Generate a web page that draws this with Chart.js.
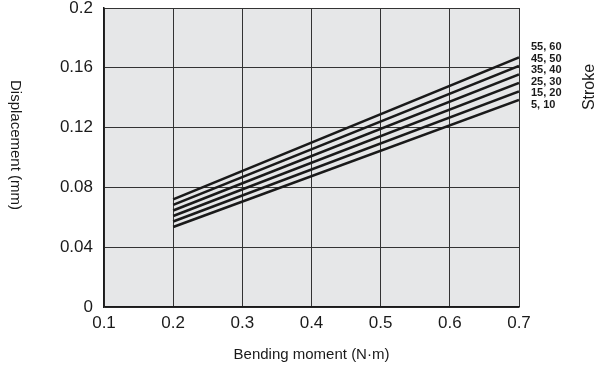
<!DOCTYPE html>
<html lang="en">
<head>
    <meta charset="UTF-8">
    <title>Displacement vs Bending moment</title>
    <script src="https://cdn.jsdelivr.net/npm/chart.js"></script>
    <style>
        * { margin: 0; padding: 0; box-sizing: border-box; }
        body { background: #ffffff; width: 606px; height: 376px; overflow: hidden; }
        .wrap { position: relative; width: 606px; height: 376px; }
    </style>
</head>
<body>
<div class="wrap">
    <canvas id="chart" width="606" height="376"></canvas>
</div>

<script>
    // Data
    var moment = [0.2, 0.7];
    var strokes = ['5, 10', '15, 20', '25, 30', '35, 40', '45, 50', '55, 60'];
    var disp_5_10 = [0.0535, 0.1385];
    var disp_15_20 = [0.0572, 0.1442];
    var disp_25_30 = [0.0609, 0.1499];
    var disp_35_40 = [0.0646, 0.1556];
    var disp_45_50 = [0.0683, 0.1613];
    var disp_55_60 = [0.0720, 0.1670];
    var xTicks = [0.1, 0.2, 0.3, 0.4, 0.5, 0.6, 0.7];
    var yTicks = [0, 0.04, 0.08, 0.12, 0.16, 0.2];

    var seriesValues = [disp_5_10, disp_15_20, disp_25_30, disp_35_40, disp_45_50, disp_55_60];
    var fontFamily = '"Liberation Sans", Arial, sans-serif';

    var datasets = seriesValues.map(function (vals, i) {
        return {
            label: strokes[i],
            data: moment.map(function (m, j) { return { x: m, y: vals[j] }; }),
            borderColor: '#1a1a1a',
            borderWidth: 2.6,
            pointRadius: 0,
            showLine: true,
            fill: false
        };
    });

    // grey plot background
    var plotBackground = {
        id: 'plotBackground',
        beforeDraw: function (chart) {
            var a = chart.chartArea, ctx = chart.ctx;
            ctx.save();
            ctx.fillStyle = '#e6e7e8';
            ctx.fillRect(a.left, a.top, a.right - a.left, a.bottom - a.top);
            ctx.restore();
        }
    };

    // stroke labels on the right and the rotated axis titles
    var sideLabels = {
        id: 'sideLabels',
        afterDraw: function (chart) {
            var ctx = chart.ctx, a = chart.chartArea;
            ctx.save();
            ctx.fillStyle = '#1a1a1a';
            ctx.font = 'bold 11px ' + fontFamily;
            ctx.textAlign = 'left';
            ctx.textBaseline = 'middle';
            for (var i = strokes.length - 1; i >= 0; i--) {
                var row = strokes.length - 1 - i;
                ctx.fillText(strokes[i], a.right + 12, 47 + row * 11.6);
            }

            ctx.font = '16px ' + fontFamily;
            ctx.textAlign = 'center';
            ctx.translate(590, 87);
            ctx.rotate(-Math.PI / 2);
            ctx.fillText('Stroke', 0, 0);
            ctx.restore();

            ctx.save();
            ctx.fillStyle = '#1a1a1a';
            ctx.font = '15px ' + fontFamily;
            ctx.textAlign = 'center';
            ctx.textBaseline = 'middle';
            ctx.translate(15, 145);
            ctx.rotate(Math.PI / 2);
            ctx.fillText('Displacement (mm)', 0, 0);
            ctx.restore();
        }
    };

    var ctx = document.getElementById('chart').getContext('2d');
    var chart = new Chart(ctx, {
        type: 'scatter',
        data: { datasets: datasets },
        plugins: [plotBackground, sideLabels],
        options: {
            responsive: false,
            animation: false,
            layout: { padding: { left: 0, right: 87, top: 8, bottom: 0 } },
            plugins: {
                legend: { display: false },
                tooltip: { enabled: false }
            },
            scales: {
                x: {
                    type: 'linear',
                    min: 0.1,
                    max: 0.7,
                    afterBuildTicks: function (s) {
                        s.ticks = xTicks.map(function (v) { return { value: v }; });
                    },
                    afterFit: function (s) {
                        s.height = 69;
                        s.paddingLeft = 0;
                        s.paddingRight = 0;
                    },
                    grid: { color: '#333333', lineWidth: 1, drawTicks: false },
                    border: { color: '#1a1a1a', width: 1.5 },
                    ticks: {
                        padding: 6,
                        color: '#1a1a1a',
                        font: { size: 17, family: fontFamily },
                        callback: function (v) { return v.toFixed(1); }
                    },
                    title: {
                        display: true,
                        text: 'Bending moment (N\u00b7m)',
                        color: '#1a1a1a',
                        font: { size: 15, family: fontFamily },
                        padding: { top: 8, bottom: 12 }
                    }
                },
                y: {
                    type: 'linear',
                    min: 0,
                    max: 0.2,
                    afterBuildTicks: function (s) {
                        s.ticks = yTicks.map(function (v) { return { value: v }; });
                    },
                    afterFit: function (s) {
                        s.width = 104;
                        s.paddingTop = 0;
                        s.paddingBottom = 0;
                    },
                    grid: { color: '#333333', lineWidth: 1, drawTicks: false },
                    border: { color: '#1a1a1a', width: 1.5 },
                    ticks: {
                        padding: 11,
                        color: '#1a1a1a',
                        font: { size: 17, family: fontFamily },
                        callback: function (v) { return v === 0 ? '0' : String(+v.toFixed(2)); }
                    }
                }
            }
        }
    });
</script>
</body>
</html>
